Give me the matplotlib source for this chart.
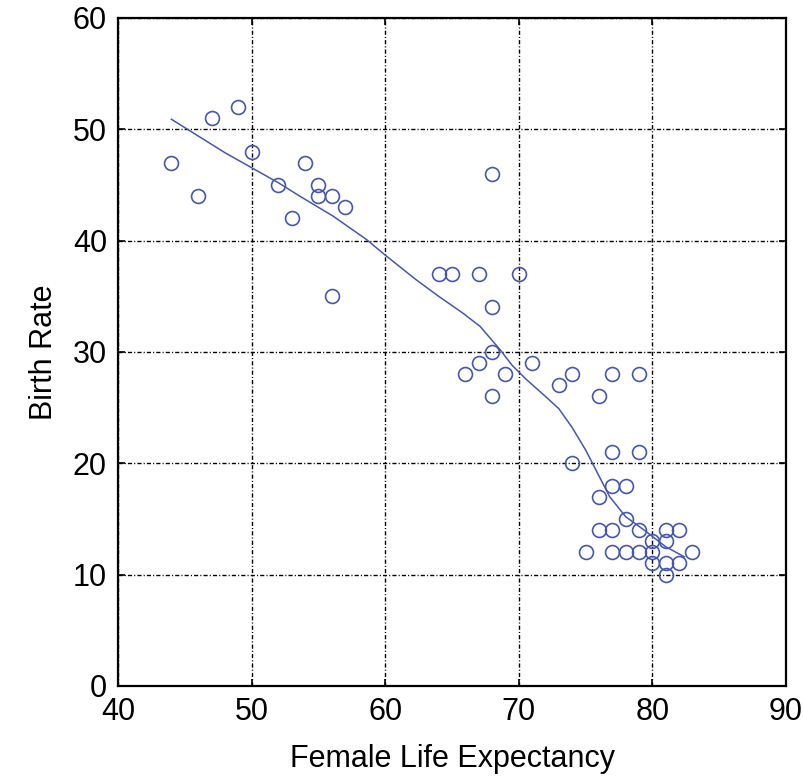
import numpy as np
import matplotlib.pyplot as plt

plt.rcParams['font.family'] = ['Liberation Sans', 'DejaVu Sans']
plt.rcParams['lines.scale_dashes'] = False

# observed countries: female life expectancy vs birth rate
life_exp = [44, 46, 47, 49, 50, 52, 53, 54, 55, 55, 56, 57, 56,
            68, 64, 65, 67, 70, 68, 68, 67, 66, 69, 68, 71,
            73, 74, 74, 76, 77, 79, 77, 79, 76, 77, 78, 78,
            79, 76, 77, 75, 77, 78, 79, 80, 80, 80, 81, 82,
            81, 81, 81, 82, 83]
birth_rate = [47, 44, 51, 52, 48, 45, 42, 47, 45, 44, 44, 43, 35,
              46, 37, 37, 37, 37, 34, 30, 29, 28, 28, 26, 29,
              27, 28, 20, 26, 28, 28, 21, 21, 17, 18, 18, 15,
              14, 14, 14, 12, 12, 12, 12, 13, 12, 11, 14, 14,
              13, 11, 10, 11, 12]

# smoothed fit curve
fit_x = [44, 48, 52, 53.6, 56.1, 58.6, 60, 62.3, 64, 65.8, 67.1, 68.6,
         69.5, 70.5, 72, 73, 74, 75, 76.8, 78, 79.5, 81, 82.4]
fit_y = [50.9, 47.9, 45.2, 44.0, 42.2, 40.1, 38.7, 36.5, 35.0, 33.5, 32.3, 30.2,
         28.8, 27.6, 26.0, 24.9, 23.2, 21.2, 17.0, 15.2, 13.9, 12.5, 11.6]

blue = '#4657b0'

fig = plt.figure(figsize=(8.04, 7.78), dpi=100)
ax = fig.add_axes([0.1468, 0.1183, 0.8308, 0.8586])

ax.plot(fit_x, fit_y, color=blue, lw=1.1, zorder=3)
ax.plot(life_exp, birth_rate, 'o', mfc='none', mec=blue, mew=1.2, ms=10, zorder=4)

ax.set_xlim(40, 90)
ax.set_ylim(0, 60)
ax.set_xticks(np.arange(40, 91, 10))
ax.set_yticks(np.arange(0, 61, 10))
ax.grid(True, color='black', lw=1.0, linestyle=(0, (3, 1.5, 0.8, 1.5)))
ax.set_axisbelow(True)

ax.tick_params(direction='in', length=5, width=1.2, labelsize=22, pad=8,
               top=True, right=True, colors='black')
for sp in ax.spines.values():
    sp.set_linewidth(1.6)

ax.set_xlabel('Female Life Expectancy', fontsize=22, labelpad=12)
ax.set_ylabel('Birth Rate', fontsize=22, labelpad=10)

plt.savefig('out.png', dpi=100)
plt.close()
